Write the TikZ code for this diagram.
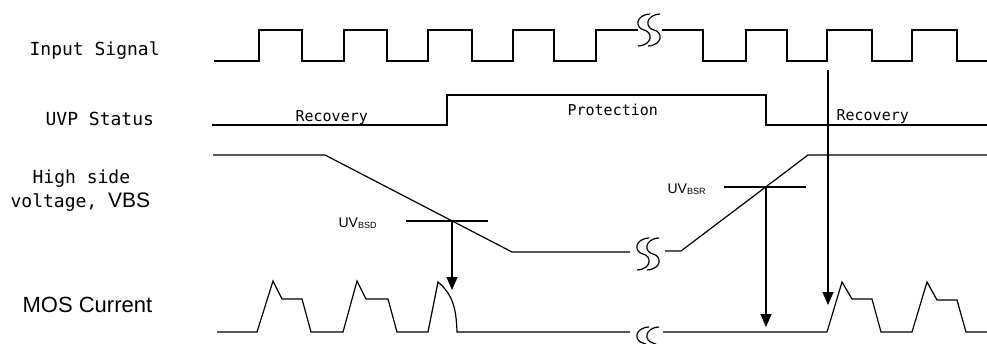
\documentclass[tikz,border=0pt]{standalone}
\usepackage{fontspec}
\setsansfont{Liberation Sans}
\setmonofont{DejaVu Sans Mono}
\usetikzlibrary{arrows.meta}

\begin{document}
\begin{tikzpicture}[x=1pt,y=-1pt,line width=1.2pt,
  lbl/.style={anchor=base west,inner sep=0pt,font=\ttfamily\fontsize{18}{18}\selectfont},
  st/.style={anchor=base west,inner sep=0pt,font=\ttfamily\fontsize{15}{15}\selectfont},
  uv/.style={anchor=base west,inner sep=0pt,font=\sffamily\fontsize{14}{14}\selectfont},
  arr/.style={-{Triangle[width=11pt,length=13pt]}},
  brk/.pic={\draw[line width=1.2pt] (6,-16) .. controls (-9,-15) and (-9,-2) .. (0,0) .. controls (9,2) and (9,15) .. (-6,16);}]
\useasboundingbox (0,0) rectangle (987,343);

% row labels
\node[lbl] (insig) at (29,55) {Input Signal};
\node[lbl] (uvp) at (45,125) {UVP Status};
\node[lbl] (hside) at (32,183) {High side};
\node[lbl] (vbs) at (10,207) {voltage, {\sffamily\fontsize{21}{21}\selectfont VBS}};
\node[lbl,font=\sffamily\fontsize{22}{22}\selectfont] (mos) at (22,312) {MOS Current};

% input signal
\draw (214,61) -- (259,61) -- (259,30) -- (302,30) -- (302,61) -- (344,61) -- (344,30) -- (387,30) -- (387,61)
  -- (428,61) -- (428,30) -- (472,30) -- (472,61) -- (513,61) -- (513,30) -- (554,30) -- (554,61)
  -- (596,61) -- (596,30) -- (638,30);
\pic at (644,30) {brk};
\pic at (654,30) {brk};
\draw (662,30) -- (703,30) -- (703,61) -- (746,61) -- (746,30) -- (787,30) -- (787,61) -- (827,61) -- (827,30)
  -- (872,30) -- (872,61) -- (912,61) -- (912,30) -- (957,30) -- (957,61) -- (987,61);

% UVP status
\draw (212,125) -- (447,125) -- (447,95) -- (766,95) -- (766,125) -- (987,125);
\node[st] (rec1) at (295,121) {Recovery};
\node[st] (prot) at (567,115) {Protection};
\node[st] (rec2) at (836,120) {Recovery};

% high side voltage
\draw (213,155) -- (325,155) -- (512,252) -- (630,252);
\pic at (643,254) {brk};
\pic at (653,254) {brk};
\draw (665,251) -- (681,251) -- (808,155) -- (987,155);
\draw (406,221) -- (488,221);
\draw (724,187) -- (806,187);
\node[uv] (uvbsd) at (338,227) {UV\raisebox{-1.5pt}{\fontsize{9}{9}\selectfont BSD}};
\node[uv] (uvbsr) at (667,193) {UV\raisebox{-1.5pt}{\fontsize{9}{9}\selectfont BSR}};

% MOS current
\draw (217,332) -- (257,332) -- (273,281) -- (282,299) -- (302,299) -- (311,332) -- (343,332) -- (357,281)
  -- (366,299) -- (388,299) -- (397,332) -- (428,332) -- (438,282) to[out=-40,in=92] (457,332) -- (630,332);
\pic at (643,343) {brk};
\pic at (653,343) {brk};
\draw (663,332) -- (827,332) -- (842,282) -- (852,299) -- (872,299) -- (881,332) -- (912,332) -- (927,282)
  -- (937,300) -- (957,300) -- (966,332) -- (987,332);

% arrows
\coordinate (bsd) at (452,221);
\coordinate (bsdend) at (452,290);
\coordinate (bsr) at (766,187);
\coordinate (bsrend) at (766,327);
\coordinate (edge) at (828,70);
\coordinate (edgeend) at (828,305);
\draw[arr] (bsd) -- (bsdend);
\draw[arr] (bsr) -- (bsrend);
\draw[arr] (edge) -- (edgeend);
\end{tikzpicture}
\end{document}
